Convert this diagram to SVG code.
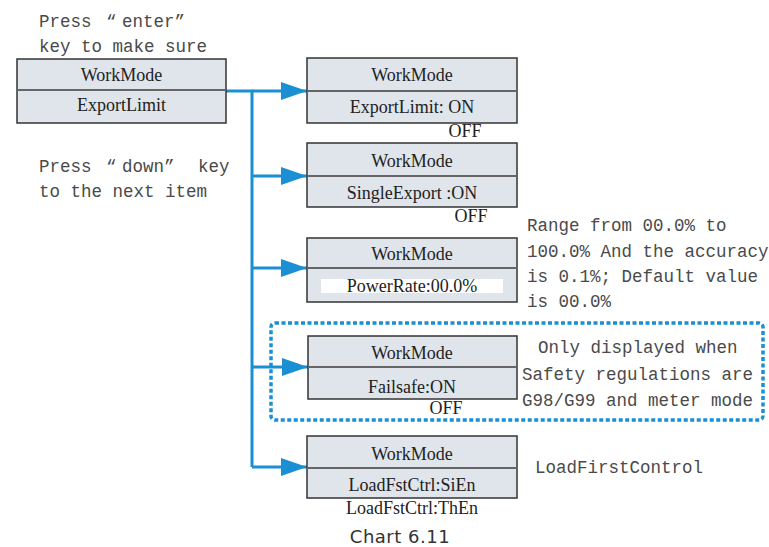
<svg xmlns="http://www.w3.org/2000/svg" width="769" height="547" viewBox="0 0 769 547">
<style>
.box{fill:#dfe5eb;stroke:#333;stroke-width:1.5}
.div{stroke:#666;stroke-width:2}
.bt{font-family:"Liberation Serif",serif;font-size:18px;fill:#222;text-anchor:middle}
.mt{font-family:"Liberation Mono",monospace;font-size:17.5px;fill:#4a4a4a}
.con{fill:none;stroke:#1a8fd3;stroke-width:3}
</style>
<defs>
<marker id="ah" markerWidth="26" markerHeight="18" refX="26" refY="9" orient="auto" markerUnits="userSpaceOnUse">
<path d="M0,0 L26,9 L0,18 Z" fill="#1a8fd3"/>
</marker>
</defs>
<rect width="769" height="547" fill="#fff"/>

<g id="notes">
<text class="mt" x="39" y="27">Press<tspan x="106">“</tspan><tspan x="122">enter”</tspan></text>
<text class="mt" x="39" y="52">key to make sure</text>
<text class="mt" x="39" y="172">Press<tspan x="106">“</tspan><tspan x="122">down”</tspan><tspan x="198">key</tspan></text>
<text class="mt" x="39" y="197">to the next item</text>
<text class="mt" x="527" y="231">Range from 00.0% to</text>
<text class="mt" x="527" y="257">100.0% And the accuracy</text>
<text class="mt" x="527" y="282">is 0.1%; Default value</text>
<text class="mt" x="527" y="307">is 00.0%</text>
<text class="mt" x="538" y="353">Only displayed when</text>
<text class="mt" x="522" y="380">Safety regulations are</text>
<text class="mt" x="522" y="406">G98/G99 and meter mode</text>
<text class="mt" x="535" y="473">LoadFirstControl</text>
<text x="400" y="543" font-family="DejaVu Sans,sans-serif" font-size="18" letter-spacing="0.5" fill="#333" text-anchor="middle">Chart 6.11</text>
</g>

<g id="connectors">
<path class="con" d="M226,91 H252 V467"/>
<line class="con" x1="252" y1="91" x2="307" y2="91" marker-end="url(#ah)"/>
<line class="con" x1="252" y1="176" x2="307" y2="176" marker-end="url(#ah)"/>
<line class="con" x1="252" y1="268" x2="307" y2="268" marker-end="url(#ah)"/>
<line class="con" x1="252" y1="367" x2="308" y2="367" marker-end="url(#ah)"/>
<path class="con" d="M252,467 H307" marker-end="url(#ah)"/>
<rect x="271" y="323" width="492" height="97" rx="4" fill="none" stroke="#1a8fd3" stroke-width="3.5" stroke-dasharray="4,2.5"/>
</g>

<g id="start">
<rect class="box" x="17" y="59" width="209" height="64"/>
<line class="div" x1="17" y1="90" x2="226" y2="90"/>
<text class="bt" x="121.5" y="81">WorkMode</text>
<text class="bt" x="121.5" y="111">ExportLimit</text>
</g>

<g id="exportlimit">
<rect class="box" x="307" y="58" width="210" height="65"/>
<line class="div" x1="307" y1="91" x2="517" y2="91"/>
<text class="bt" x="412" y="81">WorkMode</text>
<text class="bt" x="412" y="113">ExportLimit: ON</text>
<text class="bt" x="465" y="137">OFF</text>
</g>

<g id="singleexport">
<rect class="box" x="307" y="143" width="210" height="64"/>
<line class="div" x1="307" y1="176" x2="517" y2="176"/>
<text class="bt" x="412" y="167">WorkMode</text>
<text class="bt" x="412" y="199">SingleExport :ON</text>
<text class="bt" x="471" y="222">OFF</text>
</g>

<g id="powerrate">
<rect class="box" x="307" y="238" width="210" height="64"/>
<line class="div" x1="307" y1="268" x2="517" y2="268"/>
<rect x="321" y="279" width="182" height="14" fill="#fff"/>
<text class="bt" x="412" y="260">WorkMode</text>
<text class="bt" x="412" y="292">PowerRate:00.0%</text>
</g>

<g id="failsafe">
<rect class="box" x="308" y="336" width="209" height="63"/>
<line class="div" x1="308" y1="367" x2="517" y2="367"/>
<text class="bt" x="412" y="359">WorkMode</text>
<text class="bt" x="412" y="393">Failsafe:ON</text>
<text class="bt" x="446" y="414">OFF</text>
</g>

<g id="loadfirst">
<rect class="box" x="307" y="436" width="210" height="62"/>
<line class="div" x1="307" y1="468" x2="517" y2="468"/>
<text class="bt" x="412" y="460">WorkMode</text>
<text class="bt" x="412" y="491">LoadFstCtrl:SiEn</text>
<text class="bt" x="412" y="514">LoadFstCtrl:ThEn</text>
</g>
</svg>
